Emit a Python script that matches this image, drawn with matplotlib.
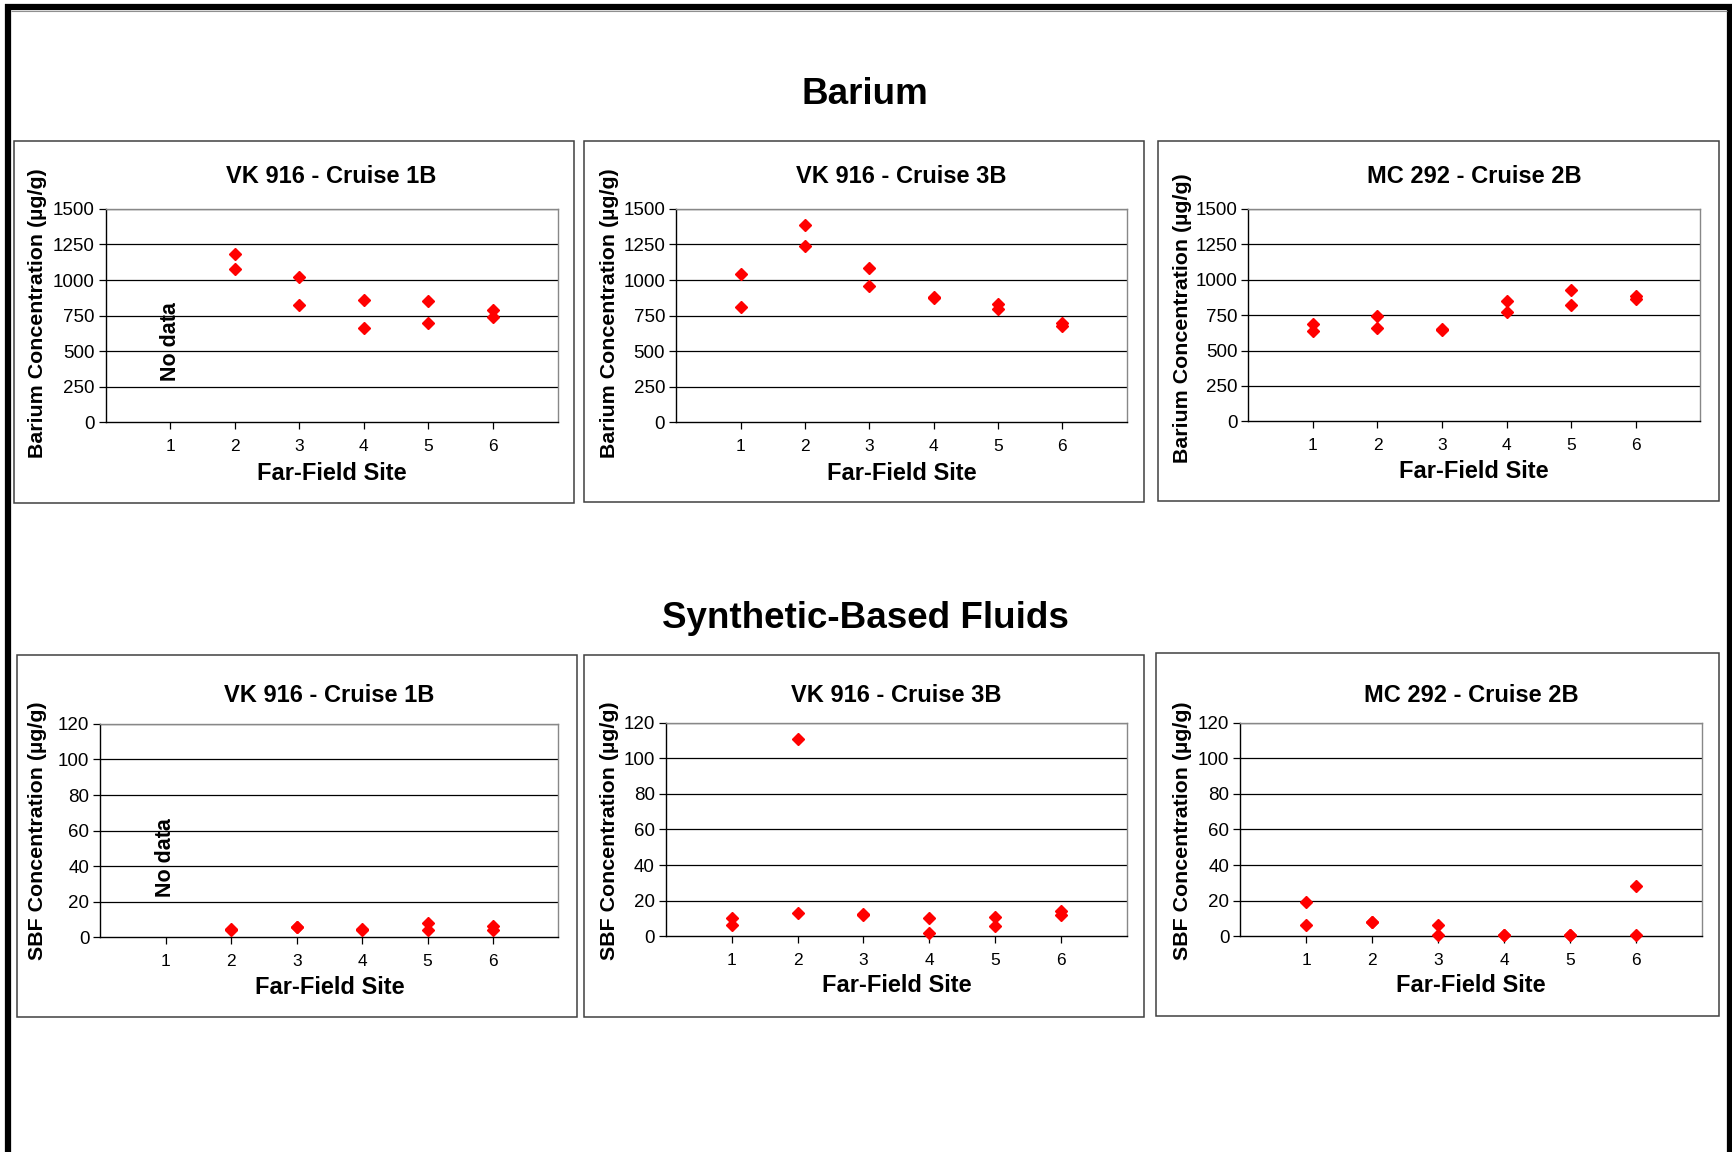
import matplotlib
matplotlib.use('Agg')
import matplotlib.pyplot as plt
from matplotlib.patches import Rectangle
from matplotlib.lines import Line2D

plt.rcParams['font.family'] = ['Liberation Sans', 'DejaVu Sans']

# data
site_labels = [1, 2, 3, 4, 5, 6]

ba_1b_x = [2, 2, 3, 3, 4, 4, 5, 5, 6, 6]
ba_1b = [1180, 1080, 1020, 824, 859, 660, 850, 695, 789, 742]

ba_3b_x = [1, 1, 2, 2, 3, 3, 4, 4, 5, 5, 6, 6]
ba_3b = [1042, 810, 1390, 1240, 1087, 960, 880, 875, 831, 796, 695, 676]

ba_2b_x = [1, 1, 2, 2, 3, 3, 4, 4, 5, 5, 6, 6]
ba_2b = [686, 639, 745, 658, 650, 645, 849, 774, 927, 818, 884, 866]

sbf_1b_x = [2, 2, 3, 3, 4, 4, 5, 5, 6, 6]
sbf_1b = [4.5, 4.0, 6.0, 5.5, 4.5, 4.0, 7.8, 4.1, 6.5, 4.1]

sbf_3b_x = [1, 1, 2, 2, 3, 3, 4, 4, 5, 5, 6, 6]
sbf_3b = [10.3, 6.3, 110.9, 12.9, 12.5, 12.0, 10.3, 1.9, 11.0, 5.8, 14.2, 11.8]

sbf_2b_x = [1, 1, 2, 2, 3, 3, 4, 4, 5, 5, 6, 6]
sbf_2b = [19.3, 6.0, 8.0, 7.8, 6.2, 0.4, 0.6, 0.5, 0.6, 0.5, 28.1, 0.4]

titles = ['VK 916 - Cruise 1B', 'VK 916 - Cruise 3B', 'MC 292 - Cruise 2B']

W, H = 1733, 1152
fig = plt.figure(figsize=(W / 100, H / 100), dpi=100)


def px(x, y):
    return x / W, 1 - y / H


def line(x0, y0, x1, y1, lw, color='black'):
    a, b = px(x0, y0)
    c, d = px(x1, y1)
    fig.add_artist(Line2D([a, c], [b, d], lw=lw, color=color,
                          transform=fig.transFigure, solid_capstyle='butt'))


# outer frame (open at the bottom)
line(5, 7, 1733, 7, 4.5)
line(8, 4, 8, 1152, 4.5)
line(1730.5, 4, 1730.5, 1152, 4.5)
line(11, 11, 1727, 11, 0.8, '#909090')

fig.text(*px(865, 94), 'Barium', ha='center', va='center', fontsize=26.5, fontweight='bold')
fig.text(*px(865, 618), 'Synthetic-Based Fluids', ha='center', va='center',
         fontsize=26.5, fontweight='bold')

# box, axes, title y, xlabel y, ylabel x, ylabel y
top_row = [
    ((14.5, 140.5, 574.5, 502.5), (105.7, 208.9, 557.5, 422.4), 176.8, 474, 37.4, 313),
    ((583.5, 140.5, 1143.9, 501.8), (676.2, 208.9, 1126.6, 422.4), 176.8, 473, 609.9, 313),
    ((1158.5, 140.5, 1719.5, 500.7), (1248.4, 208.9, 1700.2, 421.3), 176.8, 472, 1182.4, 318),
]
bottom_row = [
    ((16.6, 655.4, 576.9, 1016.8), (100.4, 723.9, 558.4, 937.2), 696, 988, 37.4, 831),
    ((583.5, 655.4, 1143.9, 1016.8), (665.8, 722.8, 1126.9, 936.1), 696, 985, 609.9, 831),
    ((1156.5, 653.2, 1719.5, 1015.7), (1240.5, 722.8, 1701.6, 936.1), 696, 985, 1182.4, 831),
]

ba_sets = [(ba_1b_x, ba_1b), (ba_3b_x, ba_3b), (ba_2b_x, ba_2b)]
sbf_sets = [(sbf_1b_x, sbf_1b), (sbf_3b_x, sbf_3b), (sbf_2b_x, sbf_2b)]


def panel(box, axr, ty, xly, ylx, yly, title, xs, ys, ymax, ystep, ylabel):
    bx0, by0, bx1, by1 = box
    l, b = px(bx0, by1)
    fig.add_artist(Rectangle((l, b), (bx1 - bx0) / W, (by1 - by0) / H,
                             transform=fig.transFigure, fill=False,
                             edgecolor='#404040', lw=1.1))
    x0, y0, x1, y1 = axr
    ax = fig.add_axes([x0 / W, 1 - y1 / H, (x1 - x0) / W, (y1 - y0) / H])
    ax.set_xlim(0, 7)
    ax.set_ylim(0, ymax)
    yt = list(range(0, ymax + 1, ystep))
    ax.set_yticks(yt)
    ax.set_xticks(site_labels)
    for v in yt[1:]:
        ax.axhline(v, color='black', lw=0.9, zorder=1)
    ax.plot(xs, ys, 'D', color='#ff0000', mec='#ff0000', ms=6, zorder=3, clip_on=False)
    for s in ['top', 'right']:
        ax.spines[s].set_color('#888888')
        ax.spines[s].set_linewidth(1)
    for s in ['left', 'bottom']:
        ax.spines[s].set_color('black')
        ax.spines[s].set_linewidth(1)
    ax.tick_params(axis='y', direction='out', length=5, width=0.9, pad=3, labelsize=13.5)
    ax.tick_params(axis='x', direction='out', length=5, width=0.9, pad=7, labelsize=12.5)
    cx = (x0 + x1) / 2
    fig.text(*px(cx, ty), title, ha='center', va='center', fontsize=17, fontweight='bold')
    fig.text(*px(cx, xly), 'Far-Field Site', ha='center', va='center',
             fontsize=17, fontweight='bold')
    fig.text(*px(ylx, yly), ylabel, ha='center', va='center', rotation=90,
             fontsize=15.4, fontweight='bold')
    return ax


for i in range(3):
    ax = panel(*top_row[i], titles[i], ba_sets[i][0], ba_sets[i][1], 1500, 250,
               'Barium Concentration (µg/g)')
    if i == 0:
        ax.text(1, 290, 'No data', rotation=90, ha='center', va='bottom',
                fontsize=15.5, fontweight='bold')

for i in range(3):
    ax = panel(*bottom_row[i], titles[i], sbf_sets[i][0], sbf_sets[i][1], 120, 20,
               'SBF Concentration (µg/g)')
    if i == 0:
        ax.text(1, 22.4, 'No data', rotation=90, ha='center', va='bottom',
                fontsize=15.5, fontweight='bold')

fig.savefig('out.png', dpi=100)
